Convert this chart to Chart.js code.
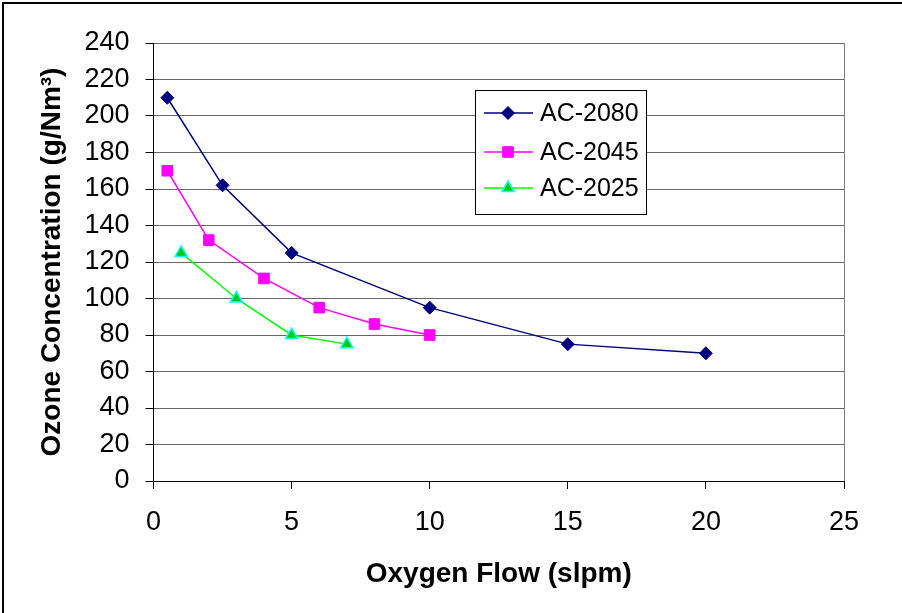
<!DOCTYPE html>
<html>
<head>
<meta charset="utf-8">
<script src="https://cdn.jsdelivr.net/npm/chart.js@4/dist/chart.umd.min.js"></script>
<style>
  html, body { margin: 0; padding: 0; background: #fff; }
  #wrap { width: 902px; height: 613px; }
</style>
</head>
<body>
<div id="wrap"><canvas id="myChart" width="902" height="613"></canvas></div>
<script>
var xTicks = [0, 5, 10, 15, 20, 25];
var yTicks = [0, 20, 40, 60, 80, 100, 120, 140, 160, 180, 200, 220, 240];

var flow2080 = [0.5, 2.5, 5, 10, 15, 20];
var ozone2080 = [210, 162, 125, 95, 75, 70];
var flow2045 = [0.5, 2, 4, 6, 8, 10];
var ozone2045 = [170, 132, 111, 95, 86, 80];
var flow2025 = [1, 3, 5, 7];
var ozone2025 = [125, 100, 80, 75];

function pairs(xs, ys) {
  return xs.map(function (x, i) { return { x: x, y: ys[i] }; });
}

var FONT = 'Arial, "Liberation Sans", sans-serif';

// frame lines, right plot border and the boxed legend
var extras = {
  id: 'extras',
  afterDraw: function (chart) {
    var ctx = chart.ctx;
    var a = chart.chartArea;
    ctx.save();
    ctx.strokeStyle = '#000';
    ctx.lineWidth = 2;
    ctx.beginPath();
    ctx.moveTo(3, 613); ctx.lineTo(3, 3); ctx.lineTo(902, 3);
    ctx.stroke();

    ctx.strokeStyle = '#808080';
    ctx.lineWidth = 1;
    ctx.beginPath();
    ctx.moveTo(a.right + 0.5, a.top); ctx.lineTo(a.right + 0.5, a.bottom);
    ctx.stroke();

    // legend
    var bx = 475.5, by = 90.5, bw = 171, bh = 124;
    ctx.fillStyle = '#fff';
    ctx.fillRect(bx, by, bw, bh);
    ctx.strokeStyle = '#000';
    ctx.strokeRect(bx, by, bw, bh);
    var rows = [113, 152, 188];
    chart.data.datasets.forEach(function (ds, i) {
      var y = rows[i];
      ctx.strokeStyle = ds.borderColor;
      ctx.lineWidth = 1.5;
      ctx.beginPath();
      ctx.moveTo(484, y); ctx.lineTo(533, y);
      ctx.stroke();
      ctx.fillStyle = ds.pointBackgroundColor;
      ctx.strokeStyle = ds.pointBorderColor;
      ctx.lineWidth = ds.pointBorderWidth;
      Chart.helpers.drawPoint(ctx, {
        pointStyle: ds.pointStyle,
        radius: ds.pointRadius,
        rotation: 0,
        borderWidth: ds.pointBorderWidth
      }, 508, y);
      ctx.fillStyle = '#000';
      ctx.font = '25px ' + FONT;
      ctx.textBaseline = 'middle';
      ctx.textAlign = 'left';
      ctx.fillText(ds.label, 540, y + 1);
    });
    ctx.restore();
  }
};

var data = {
  datasets: [{
    label: 'AC-2080',
    data: pairs(flow2080, ozone2080),
    borderColor: '#000080',
    backgroundColor: '#000080',
    pointBackgroundColor: '#000080',
    pointBorderColor: '#000080',
    pointStyle: 'rectRot',
    pointRadius: 6.5,
    pointBorderWidth: 1,
    borderWidth: 1.5
  }, {
    label: 'AC-2045',
    data: pairs(flow2045, ozone2045),
    borderColor: '#FF00FF',
    backgroundColor: '#FF00FF',
    pointBackgroundColor: '#FF00FF',
    pointBorderColor: '#FF00FF',
    pointStyle: 'rect',
    pointRadius: 7.5,
    pointBorderWidth: 1,
    borderWidth: 1.5
  }, {
    label: 'AC-2025',
    data: pairs(flow2025, ozone2025),
    borderColor: '#00FF00',
    backgroundColor: '#00FF00',
    pointBackgroundColor: '#00CC00',
    pointBorderColor: '#00FFFF',
    pointStyle: 'triangle',
    pointRadius: 7,
    pointBorderWidth: 1.5,
    borderWidth: 1.5
  }]
};

var config = {
  type: 'line',
  data: data,
  options: {
    responsive: false,
    animation: false,
    layout: { padding: { left: 8, right: 58, top: 43, bottom: 0 } },
    plugins: {
      legend: { display: false },
      tooltip: { enabled: false }
    },
    scales: {
      x: {
        type: 'linear',
        min: 0,
        max: 25,
        afterBuildTicks: function (s) { s.ticks = xTicks.map(function (v) { return { value: v }; }); },
        afterFit: function (s) { s.height = 132; },
        grid: { drawOnChartArea: false, drawTicks: true, tickLength: 8, color: '#000', tickColor: '#000' },
        border: { display: true, color: '#000', width: 1 },
        ticks: { color: '#000', font: { family: FONT, size: 27 }, padding: 17, maxRotation: 0 },
        title: {
          display: true,
          text: 'Oxygen Flow (slpm)',
          color: '#000',
          font: { family: FONT, size: 28, weight: 'bold' },
          padding: { top: 0, bottom: 22 }
        }
      },
      y: {
        min: 0,
        max: 240,
        afterBuildTicks: function (s) { s.ticks = yTicks.map(function (v) { return { value: v }; }); },
        afterFit: function (s) { s.width = 145.5; },
        grid: { drawOnChartArea: true, drawTicks: true, tickLength: 8, color: '#666', tickColor: '#000' },
        border: { display: true, color: '#000', width: 1 },
        ticks: { color: '#000', font: { family: FONT, size: 27 }, padding: 16 },
        title: {
          display: true,
          text: 'Ozone Concentration (g/Nm\u00B3)',
          color: '#000',
          font: { family: FONT, size: 28, weight: 'bold' },
          padding: { top: 27, bottom: 0 }
        }
      }
    }
  },
  plugins: [extras]
};

var myChart = new Chart(document.getElementById('myChart'), config);
</script>
</body>
</html>
